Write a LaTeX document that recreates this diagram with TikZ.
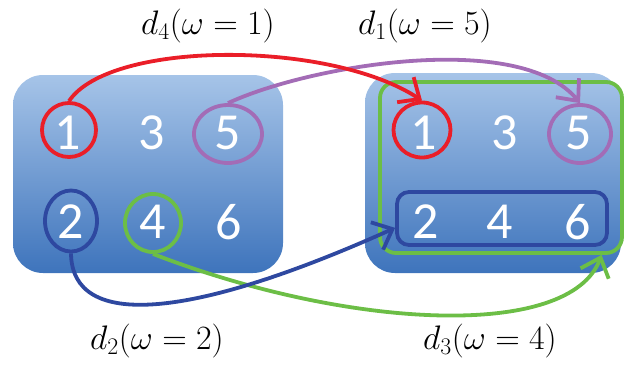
\RequirePackage{fix-cm}
\documentclass[tikz,border=0pt]{standalone}
\usepackage{fontspec}
\usepackage{tikz}
\usetikzlibrary{arrows.meta,shapes.geometric}
\newfontfamily\numfont{Carlito}
\definecolor{paneltop}{RGB}{166,196,232}
\definecolor{panelbot}{RGB}{62,116,188}
\definecolor{ringred}{RGB}{234,30,40}
\definecolor{ringpurple}{RGB}{163,108,182}
\definecolor{ringblue}{RGB}{46,72,160}
\definecolor{ringgreen}{RGB}{108,190,70}
\tikzset{
  panel/.style={rectangle,rounded corners=30pt,top color=paneltop,bottom color=panelbot,draw=none,inner sep=0pt},
  num/.style={text=white,font=\numfont\fontsize{52}{52}\selectfont,inner sep=0pt},
  ring/.style={ellipse,line width=3.8pt,inner sep=0pt},
  frame/.style={rectangle,line width=3.8pt,inner sep=0pt},
  link/.style={-{Straight Barb[length=17pt,width=30pt]},line width=3.8pt},
  lbl/.style={font=\fontsize{34}{40}\selectfont,inner sep=0pt}
}

\begin{document}
\begin{tikzpicture}[x=1pt,y=1pt]
\useasboundingbox (0,0) rectangle (626,-367);
% the two panels
\node[panel,minimum width=270pt,minimum height=198pt] (left) at (148,-174) {};
\node[panel,minimum width=256pt,minimum height=200pt] (right) at (493,-173) {};
\node[frame,draw=ringgreen,rounded corners=16pt,minimum width=242pt,minimum height=171pt] (grpR) at (501,-167.5) {};
\node[frame,draw=ringblue,rounded corners=12pt,minimum width=210pt,minimum height=53pt] (rowR) at (502,-218.5) {};
% numbers, left
\node[num] (l1) at (68,-133) {1};
\node[num] (l3) at (152,-133) {3};
\node[num] (l5) at (228,-133) {5};
\node[num] (l2) at (71,-222) {2};
\node[num] (l4) at (153,-222) {4};
\node[num] (l6) at (229,-222) {6};
% numbers, right
\node[num] (r1) at (424,-133) {1};
\node[num] (r3) at (505,-133) {3};
\node[num] (r5) at (579,-133) {5};
\node[num] (r2) at (426,-222) {2};
\node[num] (r4) at (500,-222) {4};
\node[num] (r6) at (578,-222) {6};
% rings
\node[ring,draw=ringred,minimum width=54pt,minimum height=54pt] (cL1) at (69,-130) {};
\node[ring,draw=ringpurple,minimum width=68pt,minimum height=58pt] (cL5) at (228,-134) {};
\node[ring,draw=ringblue,minimum width=52pt,minimum height=61pt] (cL2) at (71,-221) {};
\node[ring,draw=ringgreen,minimum width=56pt,minimum height=58pt] (cL4) at (153,-223) {};
\node[ring,draw=ringred,minimum width=57pt,minimum height=55pt] (cR1) at (422,-130) {};
\node[ring,draw=ringpurple,minimum width=62pt,minimum height=58pt] (cR5) at (580,-134) {};
% moves
\draw[link,draw=ringgreen] (cL4.south) .. controls (350,-330) and (570,-340) .. (grpR.-41.4);
\draw[link,draw=ringpurple] (cL5.north) .. controls (310,-65) and (520,-30) .. (cR5.north);
\draw[link,draw=ringblue] (cL2.south) .. controls (72,-330) and (190,-320) .. (rowR.185);
\draw[link,draw=ringred] (cL1.north) .. controls (110,-40) and (330,-40) .. (cR1.north);
% labels
\node[lbl] (t4) at (208,-26) {$d_4(\omega=1)$};
\node[lbl] (t1) at (425,-26) {$d_1(\omega=5)$};
\node[lbl] (t2) at (157,-341) {$d_2(\omega=2)$};
\node[lbl] (t3) at (490,-341) {$d_3(\omega=4)$};
\end{tikzpicture}
\end{document}
